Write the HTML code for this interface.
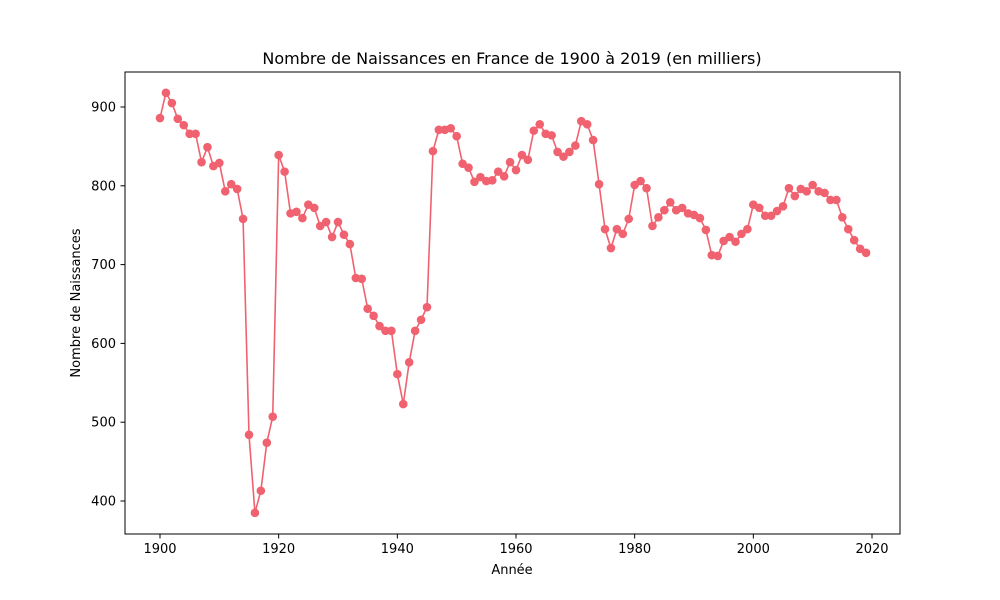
<!DOCTYPE html>
<html><head><meta charset="utf-8"><style>
body{margin:0;background:#fff;}
svg{display:block;font-family:"DejaVu Sans","Liberation Sans",sans-serif;}
</style></head><body>
<svg id="chart" width="1000" height="600" viewBox="0 0 1000 600">
<rect width="1000" height="600" fill="#fff"/>
<text x="512" y="64" text-anchor="middle" font-size="16">Nombre de Naissances en France de 1900 à 2019 (en milliers)</text>
<text x="512" y="574" text-anchor="middle" font-size="13">Année</text>
<text transform="translate(80,303) rotate(-90)" text-anchor="middle" font-size="13">Nombre de Naissances</text>
<g id="plot"></g>
<rect x="125" y="72" width="775" height="462" fill="none" stroke="#000" stroke-width="1"/>
</svg>
<script>
const startYear = 1900;
const births = [886,918,905,885,877,866,866,830,849,825,829,793,802,796,758,484,385,413,474,507,
839,818,765,767,759,776,772,749,754,735,754,738,726,683,682,644,635,622,616,616,
561,523,576,616,630,646,844,871,871,873,863,828,823,805,811,806,807,818,812,830,
820,839,833,870,878,866,864,843,837,843,851,882,878,858,802,745,721,745,739,758,
801,806,797,749,760,769,779,769,772,765,763,759,744,712,711,730,735,729,739,745,
776,772,762,762,768,774,797,787,796,793,801,793,791,782,782,760,745,731,720,715];
const xTicks = [1900,1920,1940,1960,1980,2000,2020];
const yTicks = [400,500,600,700,800,900];
const NS="http://www.w3.org/2000/svg";
const xs = y => 160 + (y-1900)*(712/120);
const ys = v => 107 + (900-v)*0.788;
const g = document.getElementById('plot');
function mk(t,a){const e=document.createElementNS(NS,t);for(const k in a)e.setAttribute(k,a[k]);g.appendChild(e);return e;}
xTicks.forEach(t=>{
  const l=mk('line',{x1:xs(t),x2:xs(t),y1:534,y2:538.5,stroke:'#000'});
  
  
  const tx=mk('text',{x:xs(t),y:553,'text-anchor':'middle','font-size':'13'});
  tx.textContent=t;
  
  
});
yTicks.forEach(t=>{
  const l=mk('line',{x1:120.5,x2:125,y1:ys(t),y2:ys(t),stroke:'#000'});
  
  
  const tx=mk('text',{x:116,y:ys(t)+4.5,'text-anchor':'end','font-size':'13'});
  tx.textContent=t;
  
  
});
const pts = births.map((v,i)=>xs(startYear+i).toFixed(2)+','+ys(v).toFixed(2)).join(' ');
const line = mk('polyline',{points:pts,fill:'none',stroke:'#f0626f','stroke-width':1.6});


births.forEach((v,i)=>{
  const c=mk('circle',{cx:xs(startYear+i),cy:ys(v),r:4.3,fill:'#f0626f'});
  
  
});
</script>
</body></html>
